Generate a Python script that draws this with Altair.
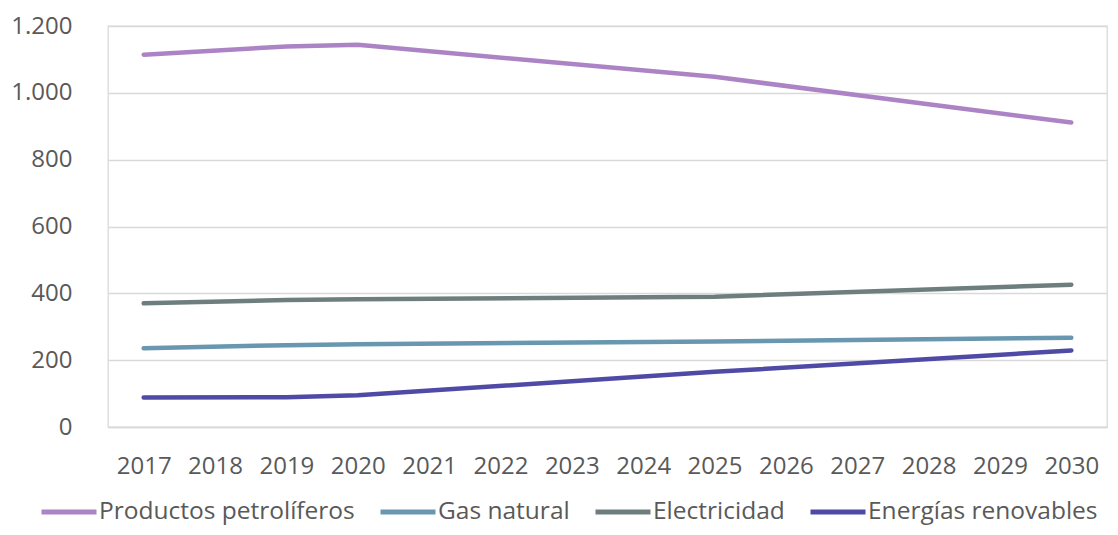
import altair as alt
import pandas as pd

years_axis = [str(y) for y in range(2017, 2031)]
anchor_years = ["2017", "2019", "2020", "2025", "2030"]

series_names = ["Productos petrolíferos", "Gas natural", "Electricidad", "Energías renovables"]
petroleo = [1114, 1139, 1144, 1048, 911]
gas = [236, 245, 248, 256, 267]
electricidad = [370, 380, 382, 390, 426]
renovables = [88, 89, 95, 165, 229]
colors = ["#AC84C5", "#6897AF", "#6E7E7E", "#4F4AA6"]

rows = []
for name, vals in zip(series_names, [petroleo, gas, electricidad, renovables]):
    for yr, v in zip(anchor_years, vals):
        rows.append({"Año": yr, "Serie": name, "Valor": v})
df = pd.DataFrame(rows)

FONT = "Open Sans"
TXT = "#595959"

chart = alt.Chart(df).mark_line(strokeWidth=4.5, strokeCap="round", strokeJoin="round").encode(
    x=alt.X("Año:O", scale=alt.Scale(type="point", domain=years_axis, padding=0.5),
            axis=alt.Axis(title=None, labelAngle=0, ticks=False, domain=True, domainColor="#d9d9d9",
                          domainWidth=1.3, labelPadding=27, labelFontSize=24, labelFont=FONT,
                          labelColor=TXT, grid=False)),
    y=alt.Y("Valor:Q", scale=alt.Scale(domain=[0, 1200], nice=False),
            axis=alt.Axis(title=None, values=[0, 200, 400, 600, 800, 1000, 1200], ticks=False,
                          domain=False, gridColor="#d9d9d9", gridWidth=1.3, labelPadding=36,
                          labelFontSize=24, labelFont=FONT, labelColor=TXT,
                          labelExpr="replace(format(datum.value, ','), ',', '.')")),
    color=alt.Color("Serie:N", scale=alt.Scale(domain=series_names, range=colors),
                    legend=alt.Legend(title=None, orient="none", legendX=-69, legendY=456,
                                      direction="horizontal", columns=4, gridAlign="none",
                                      symbolType="stroke",
                                      symbolSize=3025, symbolStrokeWidth=5, labelOffset=0,
                                      columnPadding=15, labelFont=FONT, labelFontSize=24.5,
                                      labelColor=TXT, padding=0, labelLimit=400)),
).properties(
    width=999, height=401,
    padding={"left": 100, "top": 18, "right": 3, "bottom": 100},
    autosize=alt.AutoSizeParams(type="none"),
).configure_view(stroke="#d9d9d9", strokeWidth=1.3)

chart.save("out.html", embed_options={"renderer": "svg", "actions": False})
